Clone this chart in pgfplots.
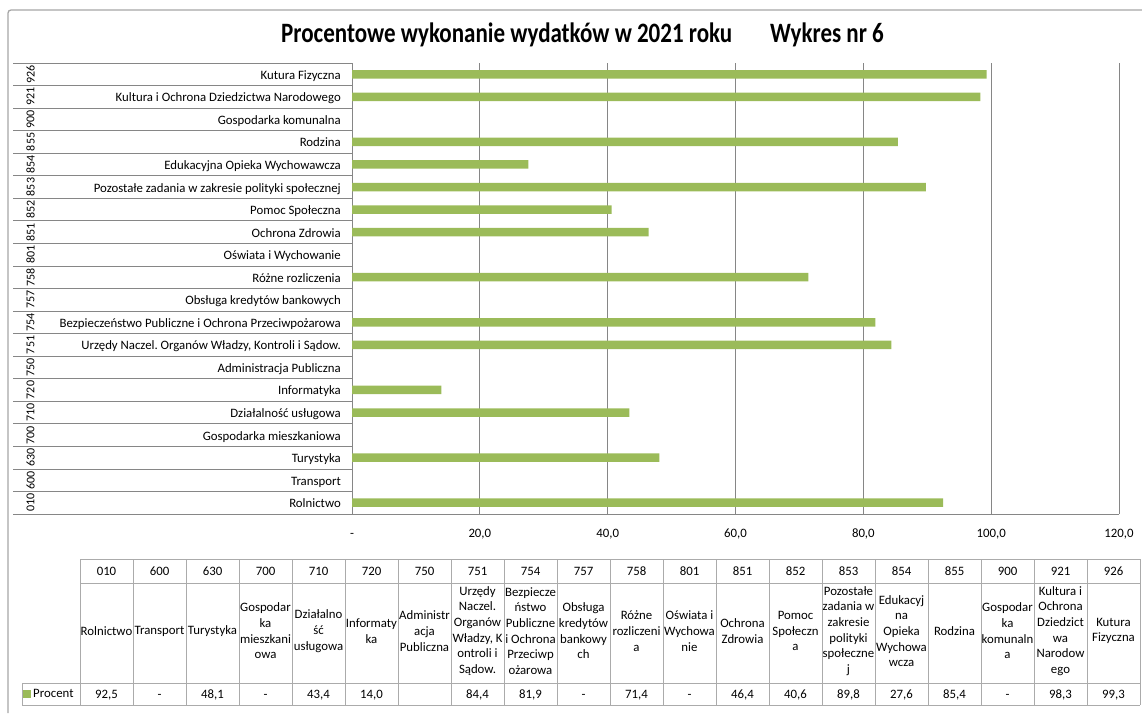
\documentclass[border=0pt]{standalone}
\usepackage{fontspec}
\setmainfont{Carlito}
\usepackage{graphicx}
\usepackage{pgfplots}
\pgfplotsset{compat=1.18}
\definecolor{bargreen}{HTML}{9BBB59}
\definecolor{gridgray}{HTML}{868686}
\definecolor{tablegray}{HTML}{ABABAB}
\definecolor{framegray}{HTML}{A6A6A6}
\newcommand\lbl{\fontsize{12.8}{15.7}\selectfont}
\frenchspacing
\begin{document}
\begin{tikzpicture}[x=1pt,y=-1pt]
% outer frame
\draw[framegray, line width=1.3pt, rounded corners=3pt] (8,713) -- (8,10) -- (1142,10);
% title
\node[anchor=west, inner sep=0pt] at (281,35) {\scalebox{1}[1.22]{\fontsize{23}{28}\selectfont\bfseries Procentowe wykonanie wydatków w 2021 roku}};
\node[anchor=west, inner sep=0pt] at (770,35) {\scalebox{1}[1.22]{\fontsize{23}{28}\selectfont\bfseries Wykres nr 6}};
% category separators in label area
\foreach \k in {0,...,20} \draw[gridgray, line width=0.8pt] (13,{514-\k*22.55}) -- (352,{514-\k*22.55});
% rotated codes
\foreach \c [count=\i from 0] in {010,600,630,700,710,720,750,751,754,757,758,801,851,852,853,854,855,900,921,926}
  \node[rotate=90, inner sep=0pt, font=\fontsize{12}{14}\selectfont] at (30.5,{514-(\i+0.5)*22.55}) {\c};

\begin{axis}[
  at={(352pt,-514pt)}, anchor=south west,
  scale only axis, width=767pt, height=451pt,
  xmin=0, xmax=120, ymin=-0.5, ymax=19.5,
  xbar, bar width=8.5pt,
  axis lines*=left, axis line style={gridgray, line width=0.8pt},
  xtick={0,20,...,120},
  xticklabels={-,{20,0},{40,0},{60,0},{80,0},{100,0},{120,0}},
  ytick={0,...,19},
  yticklabels={Rolnictwo, Transport, Turystyka, Gospodarka mieszkaniowa, Działalność usługowa, Informatyka, Administracja Publiczna, {Urzędy Naczel. Organów Władzy, Kontroli i Sądow.}, Bezpieczeństwo Publiczne i Ochrona Przeciwpożarowa, Obsługa kredytów bankowych, Różne rozliczenia, Oświata i Wychowanie, Ochrona Zdrowia, Pomoc Społeczna, Pozostałe zadania w zakresie polityki społecznej, Edukacyjna Opieka Wychowawcza, Rodzina, Gospodarka komunalna, Kultura i Ochrona Dziedzictwa Narodowego, Kutura Fizyczna},
  major tick length=0pt,
  xmajorgrids, major grid style={gridgray, line width=0.8pt},
  xticklabel style={font=\lbl, inner sep=0pt, anchor=north, text height=8.2pt, text depth=0pt, yshift=-15pt},
  yticklabel style={font=\lbl, inner sep=0pt, anchor=east, text height=10pt, text depth=0pt, xshift=-11pt},
  legend style={at={(axis description cs:-0.4289,-0.3991)}, anchor=west, draw=none, fill=none, inner sep=0pt, font=\lbl},
  legend image code/.code={\fill[bargreen] (0pt,-4pt) rectangle (8pt,4pt);},
]
\addplot[fill=bargreen, draw=none] coordinates {
 (92.5,0) (48.1,2) (43.4,4) (14.0,5) (84.4,7) (81.9,8) (71.4,10)
 (46.4,12) (40.6,13) (89.8,14) (27.6,15) (85.4,16) (98.3,18) (99.3,19)};
\addlegendentry{Procent}
\end{axis}

% data table grid
\begin{scope}[tablegray, line width=0.9pt]
\foreach \i in {0,...,20} \draw ({80+53*\i},559) -- ({80+53*\i},705);
\draw (80,559) -- (1140,559);
\draw (80,583) -- (1140,583);
\draw (22,683) -- (1140,683);
\draw (22,705) -- (1140,705);
\draw (22,683) -- (22,705);
\end{scope}
\foreach \c [count=\i from 0] in {010,600,630,700,710,720,750,751,754,757,758,801,851,852,853,854,855,900,921,926}
  \node[font=\lbl, inner sep=0pt] at ({80+53*\i+26.5},571) {\c};
\foreach \n [count=\i from 0] in {
 {Rolnictwo},{Transport},{Turystyka},{Gospodar\\ka\\mieszkani\\owa},{Działalno\\ść\\usługowa},
 {Informaty\\ka},{Administr\\acja\\Publiczna},{Urzędy\\Naczel.\\Organów\\Władzy, K\\ontroli i\\Sądow.},
 {Bezpiecze\\ństwo\\Publiczne\\i Ochrona\\Przeciwp\\ożarowa},{Obsługa\\kredytów\\bankowy\\ch},
 {Różne\\rozliczeni\\a},{Oświata i\\Wychowa\\nie},{Ochrona\\Zdrowia},{Pomoc\\Społeczn\\a},
 {Pozostałe\\zadania w\\zakresie\\polityki\\społeczne\\j},{Edukacyj\\na\\Opieka\\Wychowa\\wcza},
 {Rodzina},{Gospodar\\ka\\komunaln\\a},{Kultura i\\Ochrona\\Dziedzict\\wa\\Narodow\\ego},{Kutura\\Fizyczna}}
  \node[font=\lbl, inner sep=0pt, align=center] at ({80+53*\i+26.5},631) {\n};
\foreach \v [count=\i from 0] in {{92,5},-,{48,1},-,{43,4},{14,0},{},{84,4},{81,9},-,{71,4},-,{46,4},{40,6},{89,8},{27,6},{85,4},-,{98,3},{99,3}}
  \node[font=\lbl, inner sep=0pt, text height=8.2pt, text depth=0pt] at ({80+53*\i+26.5},694) {\v};

\pgfresetboundingbox
\path[use as bounding box] (0,0) rectangle (1142,713);
\end{tikzpicture}
\end{document}
